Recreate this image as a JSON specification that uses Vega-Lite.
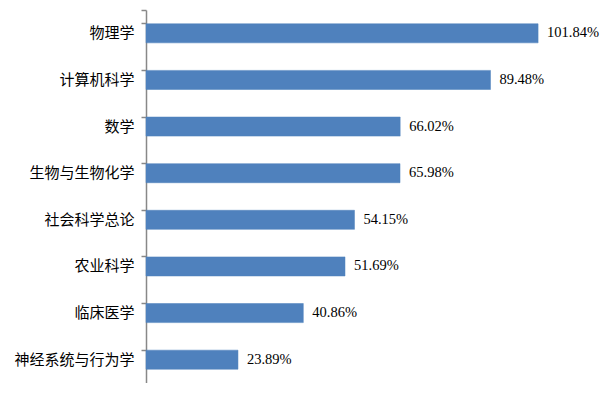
{
  "$schema": "https://vega.github.io/schema/vega-lite/v6.json",
  "autosize": "none",
  "padding": {"left": 146, "top": 10, "right": 0, "bottom": 0},
  "width": 462,
  "height": 373,
  "background": "white",
  "config": {"view": {"stroke": null}},
  "data": {"values": [
    {"subject": "物理学", "value": 101.84, "label": "101.84%"},
    {"subject": "计算机科学", "value": 89.48, "label": "89.48%"},
    {"subject": "数学", "value": 66.02, "label": "66.02%"},
    {"subject": "生物与生物化学", "value": 65.98, "label": "65.98%"},
    {"subject": "社会科学总论", "value": 54.15, "label": "54.15%"},
    {"subject": "农业科学", "value": 51.69, "label": "51.69%"},
    {"subject": "临床医学", "value": 40.86, "label": "40.86%"},
    {"subject": "神经系统与行为学", "value": 23.89, "label": "23.89%"}
  ]},
  "encoding": {
    "y": {"field": "subject", "type": "nominal", "sort": null,
      "scale": {"paddingInner": 0.59, "paddingOuter": 0.295},
      "axis": {"title": null, "ticks": true, "tickExtra": true, "bandPosition": 0, "domainColor": "#888888", "domainWidth": 1.5,
        "tickColor": "#888888", "tickWidth": 1.5, "tickSize": 5, "tickOpacity": 1, "labelPadding": 7,
        "labelFont": "Noto Sans CJK SC", "labelFontSize": 15, "labelColor": "#000000"}},
    "x": {"field": "value", "type": "quantitative", "scale": {"domain": [0, 120]}, "axis": null}
  },
  "layer": [
    {"mark": {"type": "bar", "color": "#4F81BD", "stroke": "#4F81BD", "strokeWidth": 0.5}},
    {"mark": {"type": "text", "align": "left", "baseline": "middle", "dx": 9, "font": "Liberation Serif", "fontSize": 14.5, "color": "#000000"},
     "encoding": {"text": {"field": "label", "type": "nominal"}}}
  ]
}
